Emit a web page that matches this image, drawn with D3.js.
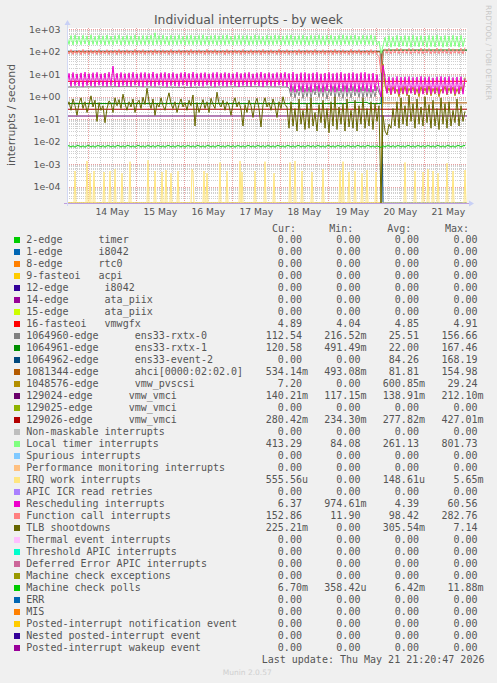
<!DOCTYPE html>
<html><head><meta charset="utf-8">
<script src="https://cdn.jsdelivr.net/npm/d3@7"></script>
<style>
html,body{margin:0;padding:0;background:#f0f0f0;}
svg{display:block;}
text{font-family:"DejaVu Sans",sans-serif;}
.mono{font-family:"DejaVu Sans Mono",monospace;font-size:10px;fill:#555;white-space:pre;}
</style></head><body>
<svg id="c" width="497" height="683"></svg>
<script>
// ---------- time frame ----------
const START = new Date(2026, 4, 13, 13, 20, 47);
const END = new Date(2026, 4, 21, 21, 20, 47);
const dayLabels = ["14 May","15 May","16 May","17 May","18 May","19 May","20 May","21 May"];
const dayNumbers = [14,15,16,17,18,19,20,21];
const yTickValues = [1e3,1e2,1e1,1e0,1e-1,1e-2,1e-3,1e-4];
const yTickLabels = ["1e+03","1e+02","1e+01","1e+00","1e-01","1e-02","1e-03","1e-04"];

// ---------- legend ----------
const legendNames = [
"2-edge      timer","1-edge      i8042","8-edge      rtc0","9-fasteoi   acpi",
"12-edge      i8042","14-edge      ata_piix","15-edge      ata_piix","16-fasteoi   vmwgfx",
"1064960-edge      ens33-rxtx-0","1064961-edge      ens33-rxtx-1","1064962-edge      ens33-event-2",
"1081344-edge      ahci[0000:02:02.0]","1048576-edge      vmw_pvscsi",
"129024-edge      vmw_vmci","129025-edge      vmw_vmci","129026-edge      vmw_vmci",
"Non-maskable interrupts","Local timer interrupts","Spurious interrupts",
"Performance monitoring interrupts","IRQ work interrupts","APIC ICR read retries",
"Rescheduling interrupts","Function call interrupts","TLB shootdowns",
"Thermal event interrupts","Threshold APIC interrupts","Deferred Error APIC interrupts",
"Machine check exceptions","Machine check polls","ERR","MIS",
"Posted-interrupt notification event","Nested posted-interrupt event","Posted-interrupt wakeup event"];
const legendColors = ["#00CC00","#0066B3","#FF8000","#FFCC00","#330099","#990099","#CCFF00","#FF0000",
"#808080","#008F00","#00487D","#B35A00","#B38F00","#6B006B","#8FB300","#B30000","#BEBEBE","#80FF80",
"#80C9FF","#FFC080","#FFE680","#AA80FF","#EE00CC","#FF8080","#666600","#FFBFFF","#00FFCC","#CC6699",
"#999900","#00CC00","#0066B3","#FF8000","#FFCC00","#330099","#990099"];
const Z = "0.00";
const legendCur = [Z,Z,Z,Z,Z,Z,Z,"4.89","112.54","120.58",Z,"534.14m","7.20","140.21m",Z,"280.42m",Z,"413.29",Z,Z,"555.56u",Z,"6.37","152.86","225.21m",Z,Z,Z,Z,"6.70m",Z,Z,Z,Z,Z];
const legendMin = [Z,Z,Z,Z,Z,Z,Z,"4.04","216.52m","491.49m",Z,"493.08m",Z,"117.15m",Z,"234.30m",Z,"84.08",Z,Z,Z,Z,"974.61m","11.90",Z,Z,Z,Z,Z,"358.42u",Z,Z,Z,Z,Z];
const legendAvg = [Z,Z,Z,Z,Z,Z,Z,"4.85","25.51","22.00","84.26","81.81","600.85m","138.91m",Z,"277.82m",Z,"261.13",Z,Z,"148.61u",Z,"4.39","98.42","305.54m",Z,Z,Z,Z,"6.42m",Z,Z,Z,Z,Z];
const legendMax = [Z,Z,Z,Z,Z,Z,Z,"4.91","156.66","167.46","168.19","154.98","29.24","212.10m",Z,"427.01m",Z,"801.73",Z,Z,"5.65m",Z,"60.56","282.76","7.14",Z,Z,Z,Z,"11.88m",Z,Z,Z,Z,Z];

// ---------- series data (hour index from START, value in 1/s) ----------
const vmwgfxSteps = [[0,4.85],[60,4.86],[120,4.84],[200,4.89]];
const rxtx0Steps = [[0,2.7],[30,2.8],[60,2.6],[90,2.8],[110,2.7]];
const rxtx0Dense = [ // from hour 111
2.5,1.0,2.8,0.9,2.2,1.1,2.9,0.85,2.4,1.0,
2.7,0.9,2.3,1.2,3.0,0.95,2.5,1.0,2.8,0.8,
2.2,1.1,2.9,0.9,2.6,1.0,2.4,0.85,3.1,1.0,
2.5,0.9,2.8,1.1,2.3,0.95,2.7,0.9,2.6,1.0,
2.4,0.9,2.2,1.0,2.8,1.5];
const rxtx0After = [[157,1.0],[158,112],[170,115],[185,110],[200,112.54]];
const rxtx1Steps = [[0,0.5],[140,0.5],[141,0.56],[150,0.56],[151,0.5],[157,0.5],[158,120],[200,120.58]];
const event2Steps = [[0,106],[157,106],[158,0],[200,0]];
const ahciSteps = [[0,100],[157,100],[158,0.53],[200,0.534]];
const pvscsiSteps = [[0,0],[157,0],[158,29]];
const pvscsiDense = [ // from hour 159
3.0,1.5,2.5,1.2,2.8,1.4,2.2,1.0,2.6,1.3,
2.9,1.1,2.4,1.5,2.7,1.2,2.3,1.0,2.8,1.4,
2.5,1.2,3.0,1.1,2.4,1.3,2.6,1.0,2.2,1.5,
2.9,1.2,2.5,1.4,2.7,1.1,2.3,1.3,2.8,1.6,7.2];
const vmci24Steps = [[0,0.139],[200,0.140]];
const vmci26Steps = [[0,0.278],[200,0.280]];
const localTimer = [
480,210,530,200,560,215,500,205,545,220,
510,200,570,210,490,205,540,215,520,200,
555,210,500,205,530,220,560,200,495,210,
540,205,515,215,565,200,505,210,535,205,
520,215,550,200,700,210,530,205,555,215,
495,200,545,210,520,205,560,215,500,200,
535,210,550,205,515,215,540,200,565,210,
505,205,530,215,555,200,520,210,545,205,
560,215,500,200,535,210,550,205,525,215,
540,200,510,210,565,205,530,215,500,200,
545,210,520,205,555,215,535,200,515,210,
540,205,560,200,510,215,530,205,550,210,
500,200,545,215,525,205,560,210,515,200,
535,215,550,205,505,210,540,200,565,215,
520,205,530,210,555,200,500,215,545,205,
525,210,560,200,515,205,300,84,180,450,
170,520,160,480,175,540,165,500,180,530,
170,510,160,545,175,490,165,525,180,505,
160,540,170,515,165,555,175,495,160,530,
170,510,165,545,175,500,160,535,170,413];
// IRQ work: [half-hour slot, value]
const irqWorkSpikes = [[8,5e-4],[20,1.4e-3],[23,4e-4],[27,5e-4],[37,4.5e-4],[43,5e-4],[48,6e-4],[55,4e-4],[63,1.3e-3],
[81,1.5e-3],[88,5e-4],[95,4.5e-4],[99,5.5e-4],[104,4e-4],[111,5e-4],[125,6e-4],[126,4.5e-4],[137,5e-4],[140,4e-4],
[153,1.2e-3],[160,5e-4],[173,1.4e-3],[175,4.5e-4],[188,5e-4],[198,1.3e-3],[207,4e-4],[223,1.2e-3],[228,1.4e-3],
[235,5e-4],[245,4.5e-4],[256,6e-4],[273,5e-4],[276,1.3e-3],[282,4.5e-4],[288,5e-4],[295,4e-4],[300,5.5e-4],
[309,4.5e-4],[338,1.2e-3],[348,5e-4],[356,4.5e-4],[361,6e-4],[366,5e-4],[371,4e-4],[380,1.1e-3],[386,5e-4],[398,5.5e-4]];
const rescheduling = [
3.2,11,2.9,12,3.1,10.5,3.0,11.5,2.8,12.5,
3.1,10.8,3.0,11.8,2.9,12.2,3.2,10.6,3.0,11.4,
2.9,12.4,3.1,23,3.0,11.2,2.8,12.0,3.1,10.9,
3.0,11.6,2.9,12.3,3.2,10.7,3.0,11.9,2.8,12.1,
3.1,11.0,3.0,12.6,2.9,10.8,3.2,11.7,3.0,12.2,
2.8,11.3,3.1,12.0,3.0,10.6,2.9,11.8,3.2,12.4,
3.0,11.1,2.8,12.5,3.1,10.9,3.0,11.6,2.9,12.0,
3.2,10.7,3.0,11.9,2.8,12.3,3.1,11.2,3.0,12.1,
2.9,11.5,3.2,10.8,3.0,12.4,2.8,11.0,3.1,11.8,
3.0,12.2,2.9,10.6,3.2,11.7,3.0,12.5,2.8,11.1,
3.1,11.9,3.0,10.9,2.9,12.0,3.2,11.4,3.0,12.3,
2.8,11.0,1.7,12.4,1.6,10.5,1.8,11.8,1.6,12.0,
1.7,10.8,1.6,11.6,1.8,12.2,1.7,10.6,1.6,11.4,
1.8,12.1,1.7,10.9,1.6,11.7,1.8,12.3,1.7,10.7,
1.6,11.5,1.8,12.0,1.7,10.8,1.6,11.9,1.8,12.2,
1.7,10.6,1.6,11.3,1.8,9.5,2.5,0.97,25,7.5,
1.4,7.8,1.3,7.2,1.4,8.0,1.3,7.5,1.4,7.7,
1.3,7.9,1.4,7.3,1.3,7.6,1.4,8.1,1.3,7.4,
1.4,7.8,1.3,7.0,1.4,7.7,1.3,8.0,1.4,7.5,
1.3,7.9,1.4,7.2,1.3,7.6,1.4,7.8,1.3,6.37];
const functionCall = [
118,80,125,76,112,82,120,74,128,79,
115,77,122,81,119,75,126,78,113,80,
124,76,117,82,121,74,127,79,116,77,
123,81,114,75,129,78,118,80,125,76,
112,82,120,74,126,79,115,77,122,81,
119,75,127,78,113,80,124,76,117,82,
121,74,128,79,116,77,123,81,114,75,
129,78,118,80,125,76,112,82,120,74,
126,79,115,77,122,81,119,75,127,78,
113,80,124,76,117,82,121,74,128,79,
116,77,123,81,114,75,129,78,118,80,
125,76,112,82,120,74,126,79,115,77,
122,81,119,75,127,78,113,80,124,76,
117,82,121,74,128,79,116,77,123,81,
114,75,129,78,118,80,125,76,112,82,
120,74,126,79,115,77,60,11.9,90,135,
85,140,80,132,88,145,82,138,86,130,
84,142,79,136,87,128,83,144,81,134,
88,139,80,131,85,146,82,137,86,129,
84,141,79,135,87,133,83,143,81,152.86];
const tlbShootdowns = [
0.35,0.6,0.25,0.8,0.4,0.15,0.5,0.9,0.3,0.6,
0.2,0.45,1.1,0.35,0.7,0.08,0.55,0.25,0.4,0.07,
0.3,0.65,0.5,0.2,0.9,0.4,0.75,0.3,1.3,0.5,
0.25,0.6,0.35,0.8,0.2,0.5,0.7,0.3,0.95,0.45,
2.4,0.6,0.3,0.8,0.15,0.5,0.35,0.9,0.4,0.25,
0.7,1.5,0.5,0.3,0.6,0.2,0.45,0.8,0.35,0.55,
0.25,0.7,0.4,1.2,0.05,0.55,0.2,0.4,0.75,0.3,
0.6,0.2,0.85,0.45,0.3,1.6,0.5,0.35,0.7,0.25,
0.6,0.4,0.15,0.5,0.9,0.35,0.6,0.28,0.05,0.45,
0.2,0.7,0.4,0.12,0.5,0.85,0.3,0.045,0.45,0.9,
0.35,0.55,0.25,0.8,0.4,0.12,0.6,0.3,1.0,0.45,
0.35,0.04,0.6,0.05,0.3,0.03,0.8,0.06,0.25,0.035,
0.5,0.04,0.9,0.05,0.2,0.03,0.45,0.07,0.7,0.04,
0.3,0.025,0.6,0.05,1.0,0.035,0.35,0.06,0.5,0.03,
0.8,0.045,0.25,0.04,0.7,0.03,0.4,0.06,0.9,0.04,
0.3,0.05,0.6,0.035,0.5,0.08,0.4,0,0.15,0.03,
0.02,0.06,0.04,0.3,0.05,0.6,0.04,0.9,0.06,0.4,
0.05,1.2,0.08,0.5,0.04,0.8,0.06,0.35,0.05,1.0,
0.07,0.45,0.04,0.7,0.05,0.3,0.035,0.9,0.06,0.5,
0.04,0.6,0.05,0.25,0.07,0.8,0.05,0.4,0.08,0.225];
const machineCheckPollsMilli = [
6.6,6.6,5.8,6.6,5.7,6.7,6.6,5.8,6.6,5.7,
6.6,6.7,5.8,6.6,5.7,6.6,6.6,5.8,6.7,5.7,
6.6,6.6,5.8,6.6,5.7,6.7,6.6,5.8,6.6,5.7,
6.7,6.6,5.8,6.6,5.7,6.6,6.7,5.8,6.6,5.7,
6.6,6.6,5.8,6.7,5.7,6.6,6.6,5.8,6.6,5.7,
6.6,6.7,5.8,6.6,5.7,6.6,6.6,5.8,6.7,5.7,
6.6,6.6,5.8,6.6,5.7,6.7,6.6,5.8,6.6,5.7,
6.7,6.6,5.8,6.6,5.7,6.6,6.7,5.8,6.6,5.7,
6.6,6.6,5.8,6.7,5.7,6.6,6.6,5.8,6.6,5.7,
6.6,6.7,5.8,6.6,5.7,6.6,6.6,5.8,6.7,5.7,
6.6,6.6,5.8,6.6,5.7,6.7,6.6,5.8,6.6,5.7,
6.7,6.6,5.8,6.6,5.7,6.6,6.7,5.8,6.6,5.7,
6.6,6.6,5.8,6.7,5.7,6.6,6.6,5.8,6.6,5.7,
6.6,6.7,5.8,6.6,5.7,6.6,6.6,5.8,6.7,5.7,
6.6,6.6,5.8,6.6,5.7,6.7,6.6,5.8,6.6,5.7,
6.7,6.6,5.8,6.6,5.7,6.6,6.0,5.6,6.6,5.8,
6.6,6.6,5.8,6.7,5.7,6.6,6.6,5.8,6.6,5.7,
6.6,6.7,5.8,6.6,5.7,6.6,6.6,5.8,6.7,5.7,
6.6,6.6,5.8,6.6,5.7,6.7,6.6,5.8,6.6,5.7,
6.7,6.6,5.8,6.6,5.7,6.6,6.7,5.8,6.6,6.70];

// ---------- build ----------
const X0 = 67, X1 = 467, Y0 = 28, Y1 = 203;
const svg = d3.select("#c");
const x = d3.scaleTime().domain([START, END]).range([X0, X1]);
const y = d3.scaleLog().domain([Math.pow(10, -4.725), Math.pow(10, 3.058)]).range([Y1, Y0]).clamp(true);
const atHour = h => new Date(START.getTime() + h * 3600e3);
const dense = (start, arr) => arr.map((v, i) => [start + i, v]);

svg.append("rect").attr("x", X0).attr("y", Y0).attr("width", X1 - X0).attr("height", Y1 - Y0).attr("fill", "#fff");

// grid
const grid = svg.append("g").attr("shape-rendering", "crispEdges");
for (let k = -5; k <= 3; k++) {
  for (let m = 2; m <= 9; m++) {
    const v = m * Math.pow(10, k);
    if (v < y.domain()[0] || v > y.domain()[1]) continue;
    const py = Math.round(y(v)) + 0.5;
    grid.append("line").attr("x1", X0).attr("x2", X1).attr("y1", py).attr("y2", py)
      .attr("stroke", "#cfcfcf").attr("stroke-dasharray", "1,1");
  }
}
d3.timeHour.every(6).range(START, END).forEach(t => {
  if (t.getHours() === 0) return;
  const px = Math.round(x(t)) + 0.5;
  grid.append("line").attr("x1", px).attr("x2", px).attr("y1", Y0).attr("y2", Y1)
    .attr("stroke", "#cfcfcf").attr("stroke-dasharray", "1,1");
});
yTickValues.forEach(v => {
  const py = Math.round(y(v)) + 0.5;
  grid.append("line").attr("x1", X0).attr("x2", X1).attr("y1", py).attr("y2", py)
    .attr("stroke", "#e9a0a0").attr("stroke-dasharray", "1,1");
});
d3.timeDay.range(START, END).forEach(t => {
  const px = Math.round(x(t)) + 0.5;
  grid.append("line").attr("x1", px).attr("x2", px).attr("y1", Y0).attr("y2", Y1)
    .attr("stroke", "#e9a0a0").attr("stroke-dasharray", "1,1");
});

// series
const irqWorkPts = d3.range(0, 401).map(s => {
  const f = irqWorkSpikes.find(p => p[0] === s);
  return [s / 2, f ? f[1] : 0];
});
const series = [
  { c: "#FF0000", p: vmwgfxSteps },
  { c: "#808080", p: rxtx0Steps.concat(dense(111, rxtx0Dense), rxtx0After) },
  { c: "#008F00", p: rxtx1Steps },
  { c: "#00487D", p: event2Steps },
  { c: "#B35A00", p: ahciSteps },
  { c: "#B38F00", p: pvscsiSteps.concat(dense(159, pvscsiDense)) },
  { c: "#6B006B", p: vmci24Steps },
  { c: "#B30000", p: vmci26Steps },
  { c: "#80FF80", p: dense(0, localTimer) },
  { c: "#FFE680", p: irqWorkPts },
  { c: "#EE00CC", p: dense(0, rescheduling) },
  { c: "#FF8080", p: dense(0, functionCall) },
  { c: "#666600", p: dense(0, tlbShootdowns) },
  { c: "#00CC00", p: dense(0, machineCheckPollsMilli.map(v => v / 1000)) }
];
svg.append("clipPath").attr("id", "plotclip").append("rect")
  .attr("x", X0).attr("y", Y0 - 1).attr("width", X1 - X0).attr("height", Y1 - Y0 + 1);
const line = d3.line().x(d => x(atHour(d[0]))).y(d => y(d[1] > 0 ? d[1] : y.domain()[0]));
const gS = svg.append("g").attr("clip-path", "url(#plotclip)");
series.forEach(s => gS.append("path").attr("d", line(s.p)).attr("fill", "none")
  .attr("stroke", s.c).attr("stroke-width", 1));

// axes
svg.append("line").attr("x1", X0 - 3).attr("x2", X1 + 3).attr("y1", Y1 + 0.5).attr("y2", Y1 + 0.5)
  .attr("stroke", "#bc9ee0");
svg.append("line").attr("x1", X0 + 0.5).attr("x2", X0 + 0.5).attr("y1", Y1 + 3).attr("y2", Y0 - 4)
  .attr("stroke", "#d2d8f4");
svg.append("path").attr("d", `M${X0 - 2.5},${Y0 - 3} L${X0 + 0.5},${Y0 - 8} L${X0 + 3.5},${Y0 - 3} Z`).attr("fill", "#c8d0f6");
svg.append("path").attr("d", `M${X1 + 2},${Y1 - 2.5} L${X1 + 7},${Y1 + 0.5} L${X1 + 2},${Y1 + 3.5} Z`).attr("fill", "#c8d0f6");

// tick labels
yTickValues.forEach((v, i) => {
  svg.append("text").attr("x", 60.5).attr("y", y(v) + 3.4).attr("text-anchor", "end")
    .attr("font-size", "9.4px").attr("fill", "#555").text(yTickLabels[i]);
});
dayNumbers.forEach((d, i) => {
  svg.append("text").attr("x", x(new Date(2026, 4, d, 12))).attr("y", 215)
    .attr("text-anchor", "middle").attr("font-size", "9.2px").attr("fill", "#555").text(dayLabels[i]);
});

// titles
svg.append("text").attr("x", 248.5).attr("y", 23.5).attr("text-anchor", "middle")
  .attr("font-size", "12.4px").attr("fill", "#555").text("Individual interrupts - by week");
svg.append("text").attr("transform", "translate(15,115) rotate(-90)").attr("text-anchor", "middle")
  .attr("font-size", "10.8px").attr("fill", "#555").text("interrupts / second");
svg.append("text").attr("transform", "translate(485.5,5) rotate(90)").attr("text-anchor", "start")
  .attr("font-size", "7.4px").attr("fill", "#c8c8c8").text("RRDTOOL / TOBI OETIKER");

// legend
const colX = [265.8, 324.3, 382.8, 441.5];
const headX = [272, 329.3, 387.3, 445];
["Cur:", "Min:", "Avg:", "Max:"].forEach((h, i) => {
  svg.append("text").attr("class", "mono").attr("x", headX[i]).attr("y", 231.8).text(h);
});
const fmt = s => {
  const m = s.match(/^([0-9.]+)([a-z]?)$/);
  return m[1].padStart(6, " ") + m[2];
};
legendNames.forEach((n, i) => {
  const cy = 239.7 + 12 * i;
  svg.append("rect").attr("x", 14).attr("y", Math.round(cy - 3)).attr("width", 6).attr("height", 6)
    .attr("fill", legendColors[i]);
  svg.append("text").attr("class", "mono").attr("x", 26.3).attr("y", cy + 3.6).text(n);
  [legendCur, legendMin, legendAvg, legendMax].forEach((arr, j) => {
    svg.append("text").attr("class", "mono").attr("x", colX[j]).attr("y", cy + 3.6).text(fmt(arr[i]));
  });
});
svg.append("text").attr("class", "mono").attr("x", 261.7).attr("y", 662.9)
  .text("Last update: Thu May 21 21:20:47 2026");
svg.append("text").attr("x", 222.7).attr("y", 674.5).attr("font-size", "7.5px").attr("fill", "#cfcfcf")
  .text("Munin 2.0.57");
</script></body></html>
